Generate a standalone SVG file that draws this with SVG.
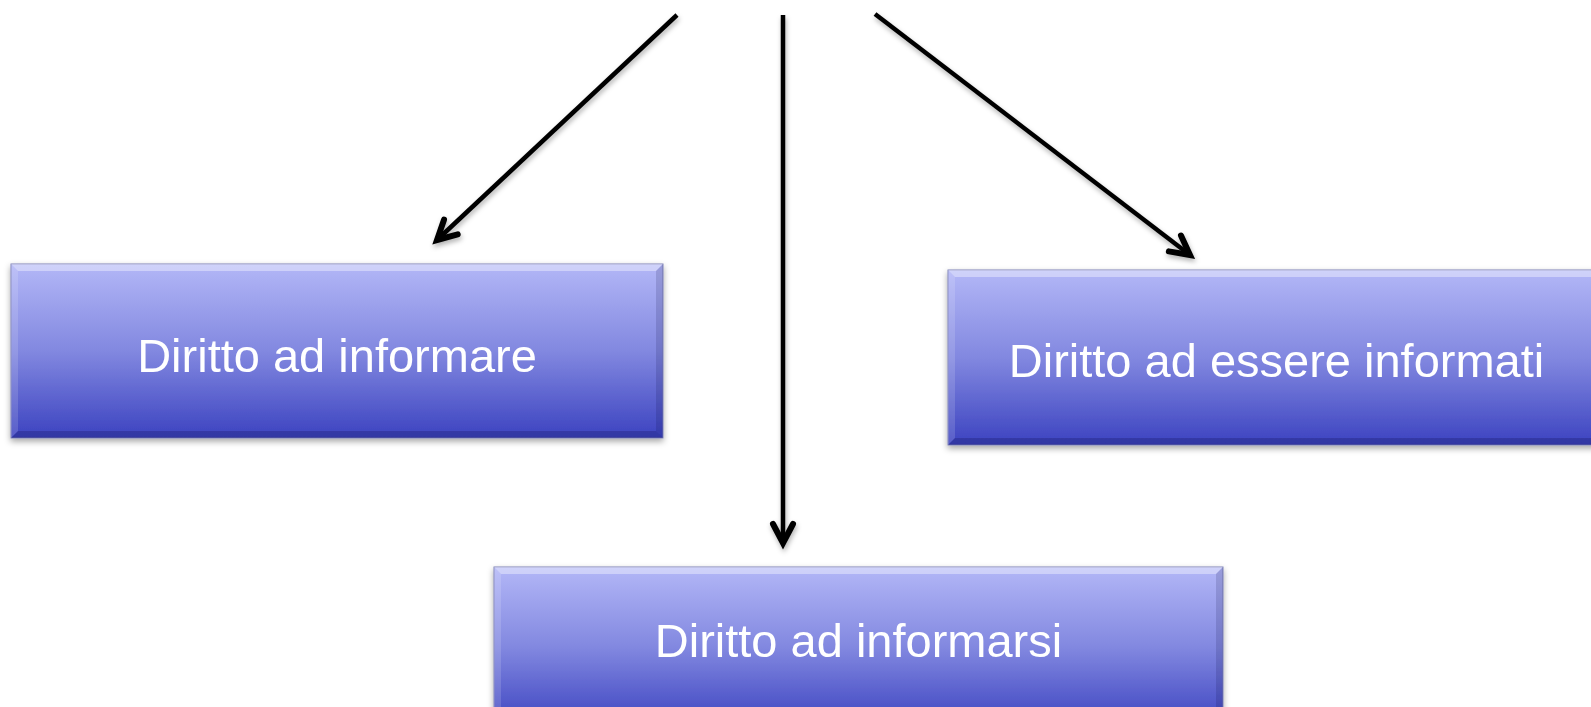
<svg xmlns="http://www.w3.org/2000/svg" width="1591" height="707" viewBox="0 0 1591 707">
  <defs>
    <linearGradient id="boxGrad" x1="0" y1="0" x2="0" y2="1">
      <stop offset="0" stop-color="#b3b7f7"/>
      <stop offset="0.5" stop-color="#8288e0"/>
      <stop offset="1" stop-color="#3c43c0"/>
    </linearGradient>
    <filter id="shadow" x="-5%" y="-10%" width="110%" height="125%">
      <feDropShadow dx="0" dy="3" stdDeviation="3" flood-color="#000" flood-opacity="0.35"/>
    </filter>
    <filter id="arrowShadow" x="-10%" y="-10%" width="120%" height="120%">
      <feDropShadow dx="1" dy="3" stdDeviation="2.5" flood-color="#000" flood-opacity="0.3"/>
    </filter>
    <marker id="arrowHead" markerUnits="userSpaceOnUse" viewBox="-26 -16 32 32" refX="0" refY="0" markerWidth="32" markerHeight="32" orient="auto" overflow="visible">
      <path d="M -19,-10 L 0,0 L -19,10" fill="none" stroke="#000" stroke-width="6" stroke-linecap="round" stroke-linejoin="miter"/>
    </marker>
  </defs>
  <style>
    .box { fill: url(#boxGrad); stroke: #7e82b8; stroke-width: 1; }
    .bevTop { fill: #ffffff; fill-opacity: 0.38; }
    .bevLeft { fill: #ffffff; fill-opacity: 0.14; }
    .bevRight { fill: #000030; fill-opacity: 0.14; }
    .bevBottom { fill: #000030; fill-opacity: 0.2; }
    .label { font-family: "Liberation Sans", Arial, sans-serif; font-size: 47px; fill: #ffffff; text-anchor: middle; }
    .conn { stroke: #000; stroke-width: 4.5; fill: none; marker-end: url(#arrowHead); }
  </style>

  <g id="node-informare" filter="url(#shadow)">
    <rect class="box" x="11" y="264" width="652" height="174"/>
    <polygon class="bevTop" points="11,264 663,264 656,271 18,271"/>
    <polygon class="bevLeft" points="11,264 18,271 18,431 11,438"/>
    <polygon class="bevRight" points="663,264 663,438 656,431 656,271"/>
    <polygon class="bevBottom" points="11,438 18,431 656,431 663,438"/>
    <text class="label" x="337" y="372">Diritto ad informare</text>
  </g>

  <g id="node-essere-informati" filter="url(#shadow)">
    <rect class="box" x="948" y="270" width="660" height="175"/>
    <polygon class="bevTop" points="948,270 1608,270 1601,277 955,277"/>
    <polygon class="bevLeft" points="948,270 955,277 955,438 948,445"/>
    <polygon class="bevBottom" points="948,445 955,438 1601,438 1608,445"/>
    <text class="label" x="1276.5" y="377">Diritto ad essere informati</text>
  </g>

  <g id="node-informarsi" filter="url(#shadow)">
    <rect class="box" x="494" y="567" width="729" height="160"/>
    <polygon class="bevTop" points="494,567 1223,567 1216,574 501,574"/>
    <polygon class="bevLeft" points="494,567 501,574 501,727 494,727"/>
    <polygon class="bevRight" points="1223,567 1223,727 1216,727 1216,574"/>
    <text class="label" x="858.5" y="657">Diritto ad informarsi</text>
  </g>

  <g id="connectors" filter="url(#arrowShadow)">
    <line class="conn" x1="677" y1="15" x2="437" y2="240"/>
    <line class="conn" x1="783" y1="15" x2="783" y2="543"/>
    <line class="conn" x1="875" y1="14" x2="1190" y2="255"/>
  </g>
</svg>
